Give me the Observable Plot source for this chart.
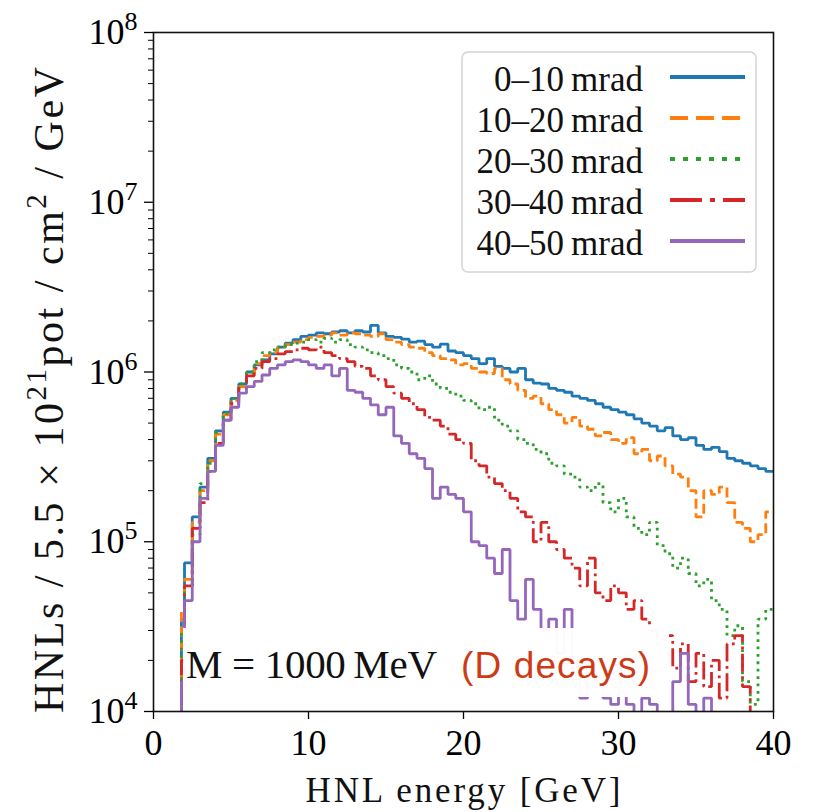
<!DOCTYPE html>
<html><head><meta charset="utf-8">
<script src="https://cdn.jsdelivr.net/npm/d3@7"></script>
<script src="https://cdn.jsdelivr.net/npm/@observablehq/plot@0.6"></script>
<style>body{margin:0;background:#fff}#chart{position:relative;width:815px;height:812px}</style>
</head><body><div id="chart"></div>
<script>
// Bin edges (GeV)
const binEdges = [1.8,2.0,2.5,3.0,3.5,4.0,4.5,5.0,5.5,6.0,6.5,7.0,7.5,8.0,8.5,9.0,9.5,10,10.5,11,11.5,12,12.5,13,13.5,14,14.5,15,15.5,16,16.5,17,17.5,18,18.5,19,19.5,20,20.5,21,21.5,22,22.5,23,23.5,24,24.5,25,25.5,26,26.5,27,27.5,28,28.5,29,29.5,30,30.5,31,31.5,32,32.5,33,33.5,34,34.5,35,35.5,36,36.5,37,37.5,38,38.5,39,39.5,40];

// Bin contents, in thousands (0 = empty bin)
const mrad0_10 = [35,75,140,210,310,450,580,700,850,1000,1100,1180,1280,1400,1480,1550,1620,1650,1700,1680,1720,1750,1700,1750,1720,1880,1700,1620,1600,1560,1500,1520,1450,1400,1460,1330,1300,1250,1200,1120,1200,1080,1050,1000,1050,900,860,850,800,780,760,720,700,680,650,620,600,580,560,530,500,480,450,470,420,400,410,370,350,360,340,310,300,290,280,270,260];
const mrad10_20 = [40,60,130,200,300,430,560,680,820,980,1120,1250,1300,1400,1450,1500,1550,1600,1620,1650,1700,1650,1700,1680,1650,1620,1680,1550,1500,1450,1400,1380,1300,1250,1200,1180,1100,1120,1050,1000,980,1050,900,850,780,700,720,650,600,560,500,540,480,460,420,440,400,380,410,330,350,300,320,280,250,240,200,140,200,190,210,170,130,120,100,110,150];
const mrad20_30 = [30,55,110,220,290,440,570,700,850,1000,1150,1300,1350,1400,1450,1480,1500,1550,1500,1580,1500,1550,1450,1400,1350,1300,1250,1200,1100,1050,1000,900,950,850,800,760,720,680,650,600,620,520,480,450,400,380,350,330,290,280,250,240,210,200,220,170,150,180,140,120,110,130,95,85,70,80,65,55,60,45,40,28,32,15,11,35,40];
const mrad30_40 = [20,55,120,170,260,380,520,650,800,950,1050,1150,1200,1280,1320,1350,1380,1350,1400,1300,1250,1200,1150,1080,1050,950,900,820,750,700,650,600,540,520,480,430,400,380,300,280,240,220,200,180,150,140,100,130,100,90,80,70,55,80,50,45,55,50,40,45,35,30,25,28,18,25,15,22,14,20,12,25,28,14,0,0,0];
const mrad40_50 = [15,45,100,180,260,370,520,620,750,820,880,960,1050,1100,1150,1180,1150,1100,1050,1100,950,1050,780,760,700,640,560,620,420,380,330,310,270,180,210,190,180,150,100,95,80,65,90,45,35,60,40,30,35,22,40,18,12,20,14,12,11,13,11,0,12,11,0,0,15,22,11,0,12,0,0,0,0,0,0,0,0];

const seriesNames = ["0–10\u2009mrad","10–20\u2009mrad","20–30\u2009mrad","30–40\u2009mrad","40–50\u2009mrad"];
const seriesValues = [mrad0_10, mrad10_20, mrad20_30, mrad30_40, mrad40_50];
const seriesColors = ["#1f77b4","#ff7f0e","#2ca02c","#d62728","#9467bd"];
const seriesDash = [null, "10,4.5", "2.8,4.6", "18,4.5,2.8,4.5", null];
const legendDash = [null, "18,8", "5,8", "32,8,5,8", null];

const yMajorTicks = [1e4,1e5,1e6,1e7,1e8];
const yMinorTicks = [2e4,3e4,4e4,5e4,6e4,7e4,8e4,9e4,2e5,3e5,4e5,5e5,6e5,7e5,8e5,9e5,2e6,3e6,4e6,5e6,6e6,7e6,8e6,9e6,2e7,3e7,4e7,5e7,6e7,7e7,8e7,9e7];
const xTicks = [0,10,20,30,40];
const xLabel = "HNL energy [GeV]";
const massLabel = "M = 1000\u2009MeV";
const decayLabel = "(D decays)";

const SERIF = "'Liberation Serif', 'Times New Roman', serif";
const SANS = "'Liberation Sans', Arial, sans-serif";
const FLOOR = 1;
function rowsFor(vals) {
  const rows = [{x: binEdges[0], y: FLOOR}];
  vals.forEach((v, i) => rows.push({x: binEdges[i], y: v > 0 ? v * 1000 : FLOOR}));
  const last = vals[vals.length - 1];
  rows.push({x: binEdges[binEdges.length - 1], y: last > 0 ? last * 1000 : FLOOR});
  return rows;
}

const lineMarks = seriesValues.map((vals, i) => Plot.line(rowsFor(vals), {
  x: "x", y: "y", curve: "step-after",
  stroke: seriesColors[i], strokeWidth: 2.8,
  strokeDasharray: seriesDash[i] || undefined,
  strokeLinecap: "butt", strokeLinejoin: "miter",
  clip: true
}));

const plot = Plot.plot({
  width: 815, height: 812,
  marginLeft: 153, marginRight: 42, marginTop: 32, marginBottom: 101,
  style: {fontFamily: SERIF, fontSize: "36px", color: "#000", background: "#fff"},
  x: {domain: [0, 40]},
  y: {type: "log", domain: [1e4, 1e8]},
  marks: [
    ...lineMarks,
    Plot.axisX({ticks: xTicks, tickSize: 8, tickPadding: 10, label: null, tickFormat: d => String(d), strokeWidth: 1.3}),
    Plot.axisY({ticks: yMajorTicks, tickSize: 9, tickPadding: 7, label: null, tickFormat: d => String(Math.round(Math.log10(d))), strokeWidth: 1.3}),
    Plot.axisY({ticks: yMinorTicks, tickSize: 5, label: null, tickFormat: () => "", strokeWidth: 1}),
    Plot.frame({stroke: "#111", strokeWidth: 1.6})
  ]
});
document.getElementById("chart").appendChild(plot);

const svg = d3.select(plot);

// tick label fonts
svg.selectAll('g[aria-label$="tick label"]').style("font-family", SERIF);

// y tick labels as 10^n
svg.selectAll('g[aria-label="y-axis tick label"] text').each(function() {
  const t = this.textContent;
  if (!t) return;
  this.textContent = "";
  const s = d3.select(this);
  s.append("tspan").text("10");
  s.append("tspan").attr("dy", "-14").style("font-size", "26px").text(t);
});

function txt(parent, family, size, anchor) {
  return parent.append("text").style("font-family", family).style("font-size", size + "px")
    .attr("text-anchor", anchor).attr("fill", "#111");
}

// Annotation box
const ann = svg.append("g");
ann.append("rect").attr("x", 183).attr("y", 628).attr("width", 486).attr("height", 69)
  .attr("fill", "#fff").attr("fill-opacity", 0.97);
txt(ann, SERIF, 41, "start").attr("x", 186).attr("y", 678)
  .attr("textLength", 251).attr("lengthAdjust", "spacing").text(massLabel);
txt(ann, SANS, 37, "start").attr("x", 461).attr("y", 678)
  .attr("textLength", 189).attr("lengthAdjust", "spacing")
  .attr("fill", "#cf3a16").text(decayLabel);

// Axis titles
txt(svg, SERIF, 35, "middle").attr("x", 463).attr("y", 802)
  .attr("textLength", 315).attr("lengthAdjust", "spacing").text(xLabel);

const yt = txt(svg, SERIF, 42, "middle").attr("transform", "translate(63,390) rotate(-90)")
  .attr("textLength", 646).attr("lengthAdjust", "spacing");
yt.append("tspan").text("HNLs / 5.5 × 10");
yt.append("tspan").attr("dy", -17).style("font-size", "29px").text("21");
yt.append("tspan").attr("dy", 17).text("pot / cm");
yt.append("tspan").attr("dy", -17).style("font-size", "29px").text("2");
yt.append("tspan").attr("dy", 17).text(" / GeV");

// Legend
const lg = svg.append("g");
lg.append("rect").attr("x", 462).attr("y", 52).attr("width", 294).attr("height", 220).attr("rx", 6)
  .attr("fill", "#fff").attr("fill-opacity", 0.8).attr("stroke", "#d4d4d4").attr("stroke-width", 1.5);
seriesNames.forEach((name, i) => {
  const ly = 77 + i * 41;
  lg.append("line").attr("x1", 670).attr("x2", 745).attr("y1", ly).attr("y2", ly)
    .attr("stroke", seriesColors[i]).attr("stroke-width", 4)
    .attr("stroke-dasharray", legendDash[i]).attr("stroke-linecap", "butt");
  txt(lg, SERIF, 35, "end").attr("x", 643).attr("y", ly + 14).text(name);
});
</script>
</body></html>
